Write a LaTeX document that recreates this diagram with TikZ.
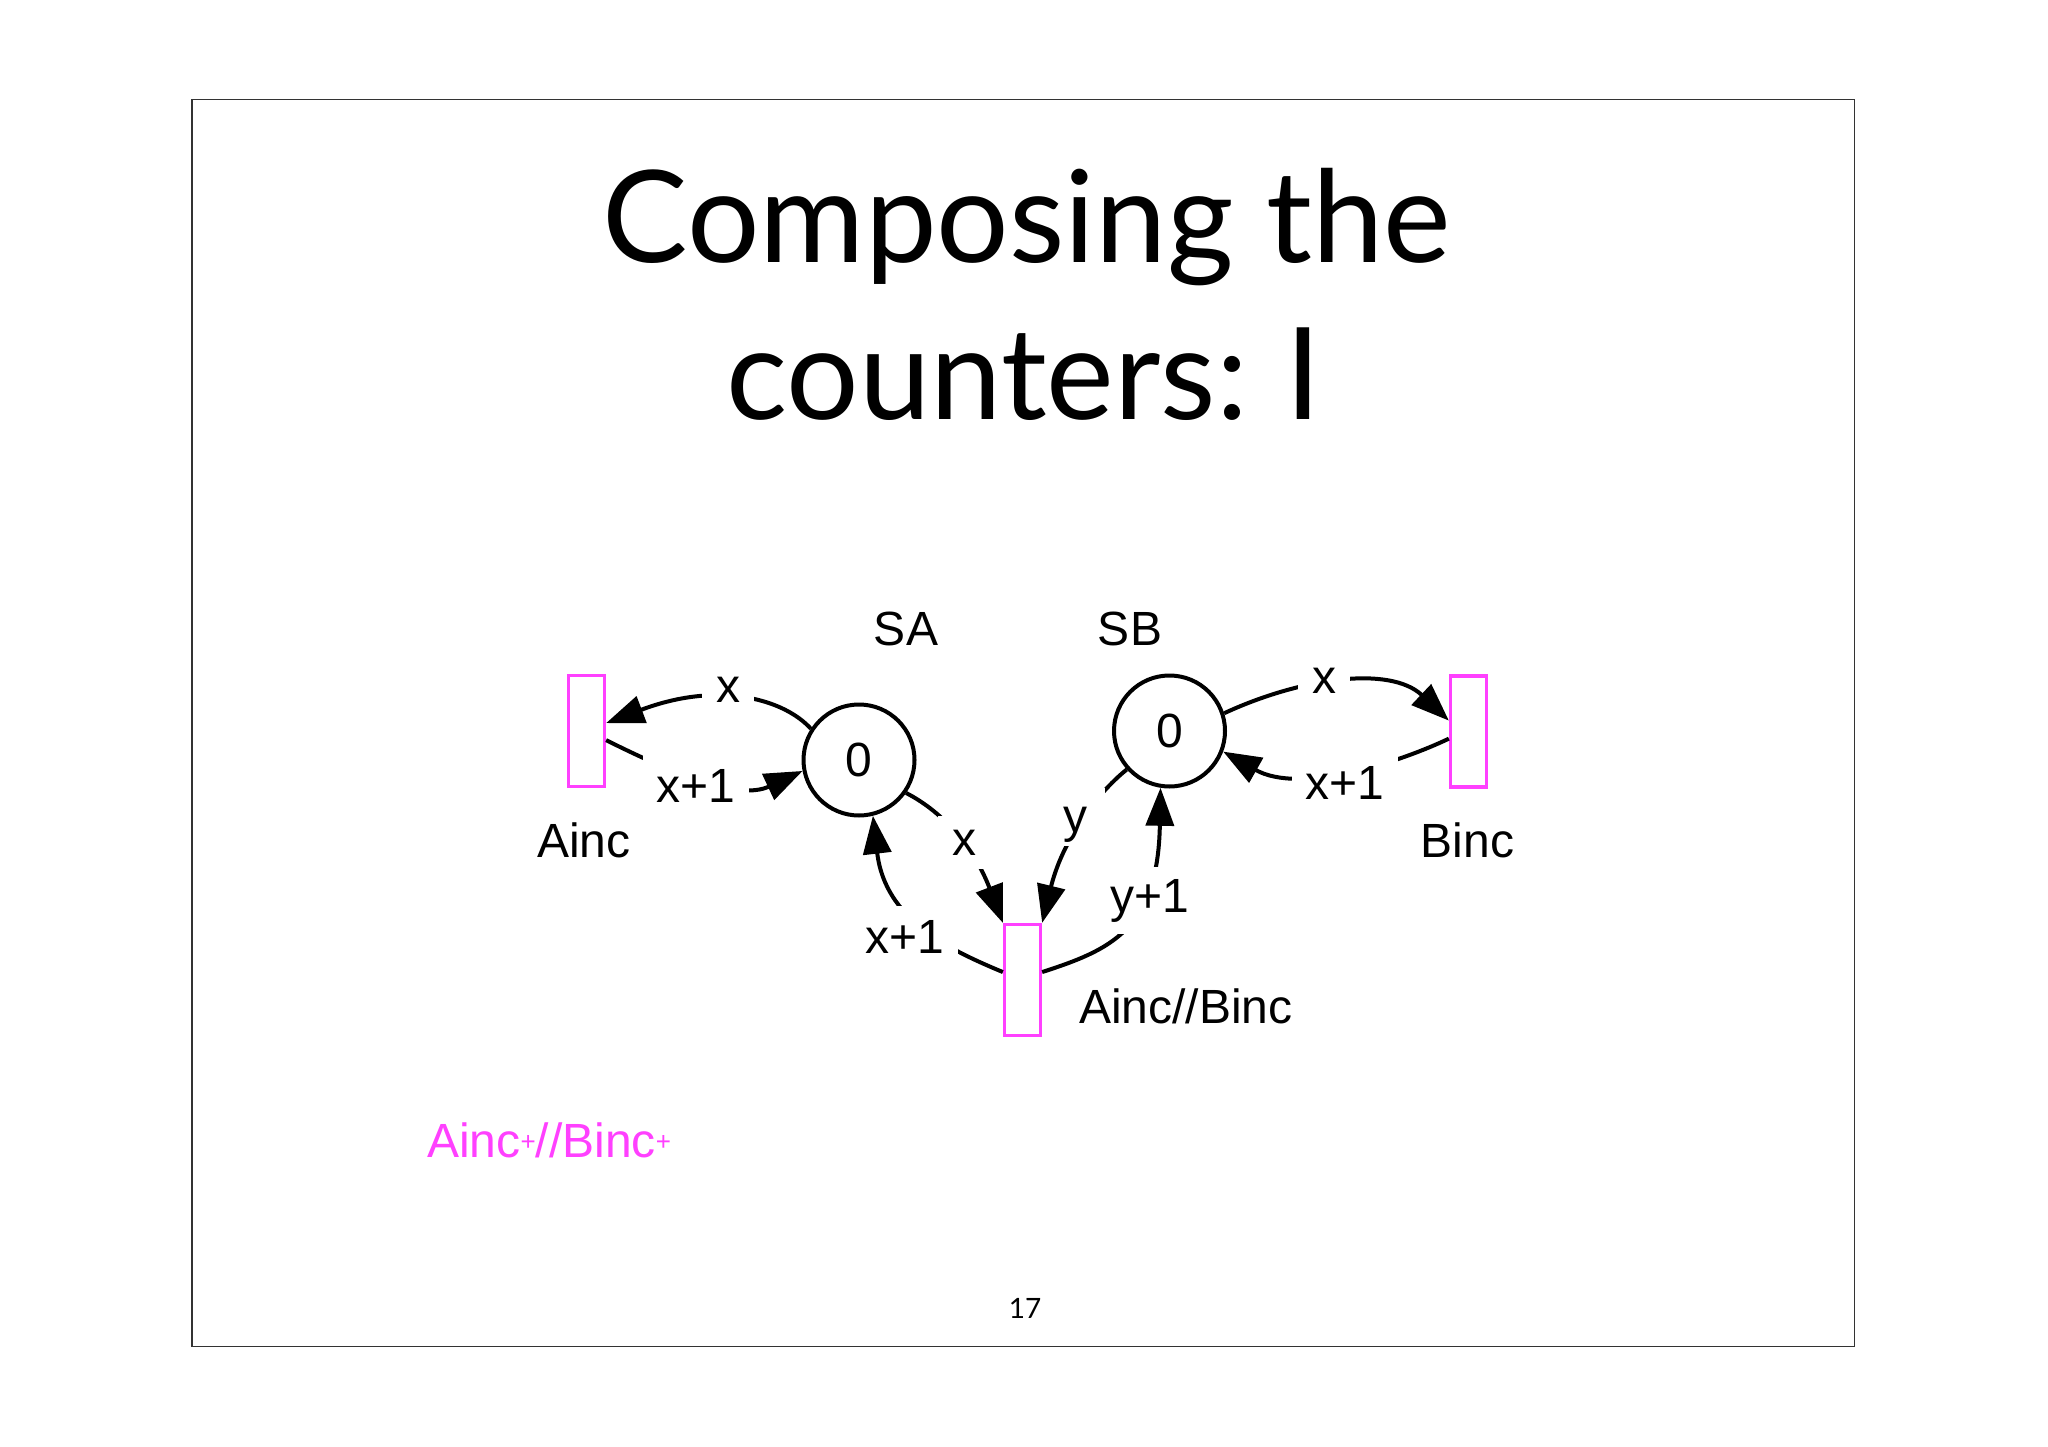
\documentclass[tikz,border=0pt]{standalone}
\usepackage{fontspec}
\setmainfont{Liberation Sans}
\newfontfamily\titlefont{Lato}
\usetikzlibrary{arrows.meta}
\definecolor{pnk}{RGB}{255,64,255}
\newcommand{\supplus}{\raisebox{7pt}{\fontsize{26}{26}\selectfont +}}
\begin{document}
\begin{tikzpicture}[x=1pt,y=-1pt,
  place/.style={circle,draw,line width=4pt,minimum size=111pt,inner sep=0pt,font=\fontsize{48}{58}\selectfont},
  trans/.style={rectangle,draw=pnk,line width=3.3pt,minimum width=36pt,minimum height=111pt,inner sep=0pt},
  arcline/.style={line width=4pt,-{Triangle[length=38pt,width=28pt]}},
  lbl/.style={fill=white,inner sep=14pt,font=\fontsize{48}{58}\selectfont},
  txt/.style={inner sep=0pt,font=\fontsize{48}{58}\selectfont},
  ttl/.style={inner sep=0pt,font=\titlefont\fontsize{128}{150}\selectfont}]
\useasboundingbox (0,0) rectangle (2048,1447);
\fill[white] (0,0) rectangle (2048,1447);
\draw[line width=1.6pt,black!80] (192,99.5) rectangle (1854.5,1346.5);

% title
\node[ttl,anchor=base] (t1) at (1027,263) {Composing the};
\node[ttl,anchor=base] (t2) at (1024,419) {counters:\hspace{-6pt} I};

% places and transitions
\node[place] (SA) at (859,760) {0};
\node[place] (SB) at (1169.5,731) {0};
\node[trans] (Ainc) at (586.5,731) {};
\node[trans] (Binc) at (1468.5,731.5) {};
\node[trans] (AB) at (1022.5,980) {};

% arcs
\draw[arcline] (SA.147) .. controls (785,700) and (720,680) .. (Ainc.22);
\draw[arcline] (Ainc.-25) .. controls (680,777) and (740,800) .. (SA.191);
\draw[arcline] (SA.-35) .. controls (945,813) and (975,850) .. (AB.north west);
\draw[arcline] (AB.158) .. controls (950,950) and (885,920) .. (SA.-76);
\draw[arcline] (SB.222) .. controls (1095,795) and (1062,842) .. (AB.north east);
\draw[arcline] (AB.22) .. controls (1110,950) and (1158,930) .. (SB.-99);
\draw[arcline] (SB.18) .. controls (1300,678) and (1390,665) .. (Binc.151);
\draw[arcline] (Binc.200) .. controls (1400,762) and (1300,795) .. (SB.-21);

% arc labels
\node[lbl,anchor=base] (l1) at (728,702) {x};
\node[lbl,anchor=base] (l2) at (696,802) {x+1};
\node[lbl,anchor=base] (l3) at (964,855) {x};
\node[lbl,anchor=base] (l4) at (905,953) {x+1};
\node[lbl,anchor=base west,inner xsep=4pt,inner ysep=2pt,text height=42pt,text depth=12pt] (l5) at (1059,832) {y\hspace*{14pt}};
\node[lbl,anchor=base,inner sep=12pt] (l6) at (1149.5,912) {y+1};
\node[lbl,anchor=base] (l7) at (1324,693) {x};
\node[lbl,anchor=base] (l8) at (1345,799) {x+1};

% names
\node[txt,anchor=base] (nSA) at (906,645) {SA};
\node[txt,anchor=base] (nSB) at (1130,645) {SB};
\node[txt,anchor=base] (nAinc) at (584,857) {Ainc};
\node[txt,anchor=base] (nBinc) at (1467.5,857) {Binc};
\node[txt,anchor=base west] (nAB) at (1079,1023) {Ainc//Binc};

\node[txt,anchor=base west,text=pnk] (comp) at (427,1157) {Ainc\supplus//Binc\supplus};

\node[inner sep=0pt,anchor=base,font=\titlefont\fontsize{28}{34}\selectfont] (pg) at (1025,1318) {17};
\end{tikzpicture}
\end{document}
